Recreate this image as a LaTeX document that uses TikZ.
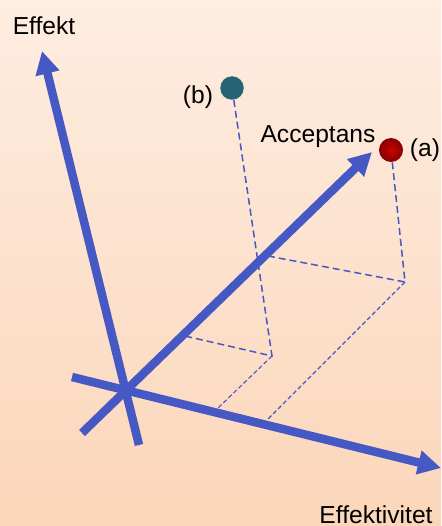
\documentclass[tikz,border=0pt]{standalone}
\usepackage{fontspec}
\setmainfont{Liberation Sans}
\usetikzlibrary{arrows.meta}
\definecolor{axisblue}{RGB}{70,88,196}
\definecolor{dotteal}{RGB}{38,100,115}
\definecolor{dotred}{RGB}{200,4,4}
\definecolor{dotreddark}{RGB}{135,0,0}
\definecolor{bgtop}{RGB}{254,237,225}
\definecolor{bgbottom}{RGB}{251,214,186}

\begin{document}
\begin{tikzpicture}[
    x=0.02cm, y=-0.02cm,
    axis/.style={axisblue, line width=0.17cm, -{Triangle[length=0.46cm, width=0.46cm]}},
    proj/.style={axisblue, line width=0.03cm, dash pattern=on 0.14cm off 0.08cm},
    projthin/.style={axisblue, line width=0.022cm, dash pattern=on 0.09cm off 0.05cm},
    lbl/.style={font=\fontsize{14}{16}\selectfont, inner sep=0pt},
    dot/.style={circle, inner sep=0pt, minimum size=0.47cm}
]
\useasboundingbox (0,0) rectangle (441,526);
\shade[top color=bgtop, bottom color=bgbottom] (0,0) rectangle (441,526);

% axes
\coordinate (effekt0) at (139,445);
\coordinate (effekt1) at (42,51);
\coordinate (accept0) at (82,433);
\coordinate (accept1) at (372,152);
\coordinate (effektiv0) at (72,377);
\coordinate (effektiv1) at (441,468);

% projection points
\coordinate (footA) at (405,282);
\coordinate (footAacc) at (268,256);
\coordinate (footAeff) at (267,420);
\coordinate (footB) at (272,356);
\coordinate (footBacc) at (185,336);
\coordinate (footBeff) at (218,408);

\node[dot, fill=dotteal] (b) at (232,88) {};
\node[dot, shading=radial, inner color=dotred, outer color=dotreddark, minimum size=0.48cm] (a) at (391,150) {};

\draw[proj] (a) -- (footA) -- (footAacc);
\draw[projthin] (footA) -- (footAeff);
\draw[proj] (b) -- (footB) -- (footBacc);
\draw[projthin] (footB) -- (footBeff);

\draw[axis] (effekt0) -- (effekt1);
\draw[axis] (effektiv0) -- (effektiv1);
\draw[axis] (accept0) -- (accept1);

\node[lbl, anchor=base] (effektlbl) at (44,35) {Effekt};
\node[lbl, anchor=base] (acclbl) at (318,143) {Acceptans};
\node[lbl, anchor=base] (effektivlbl) at (376,523) {Effektivitet};
\node[lbl, anchor=base] (blbl) at (198,104) {(b)};
\node[lbl, anchor=base] (albl) at (425,157) {(a)};
\end{tikzpicture}
\end{document}
